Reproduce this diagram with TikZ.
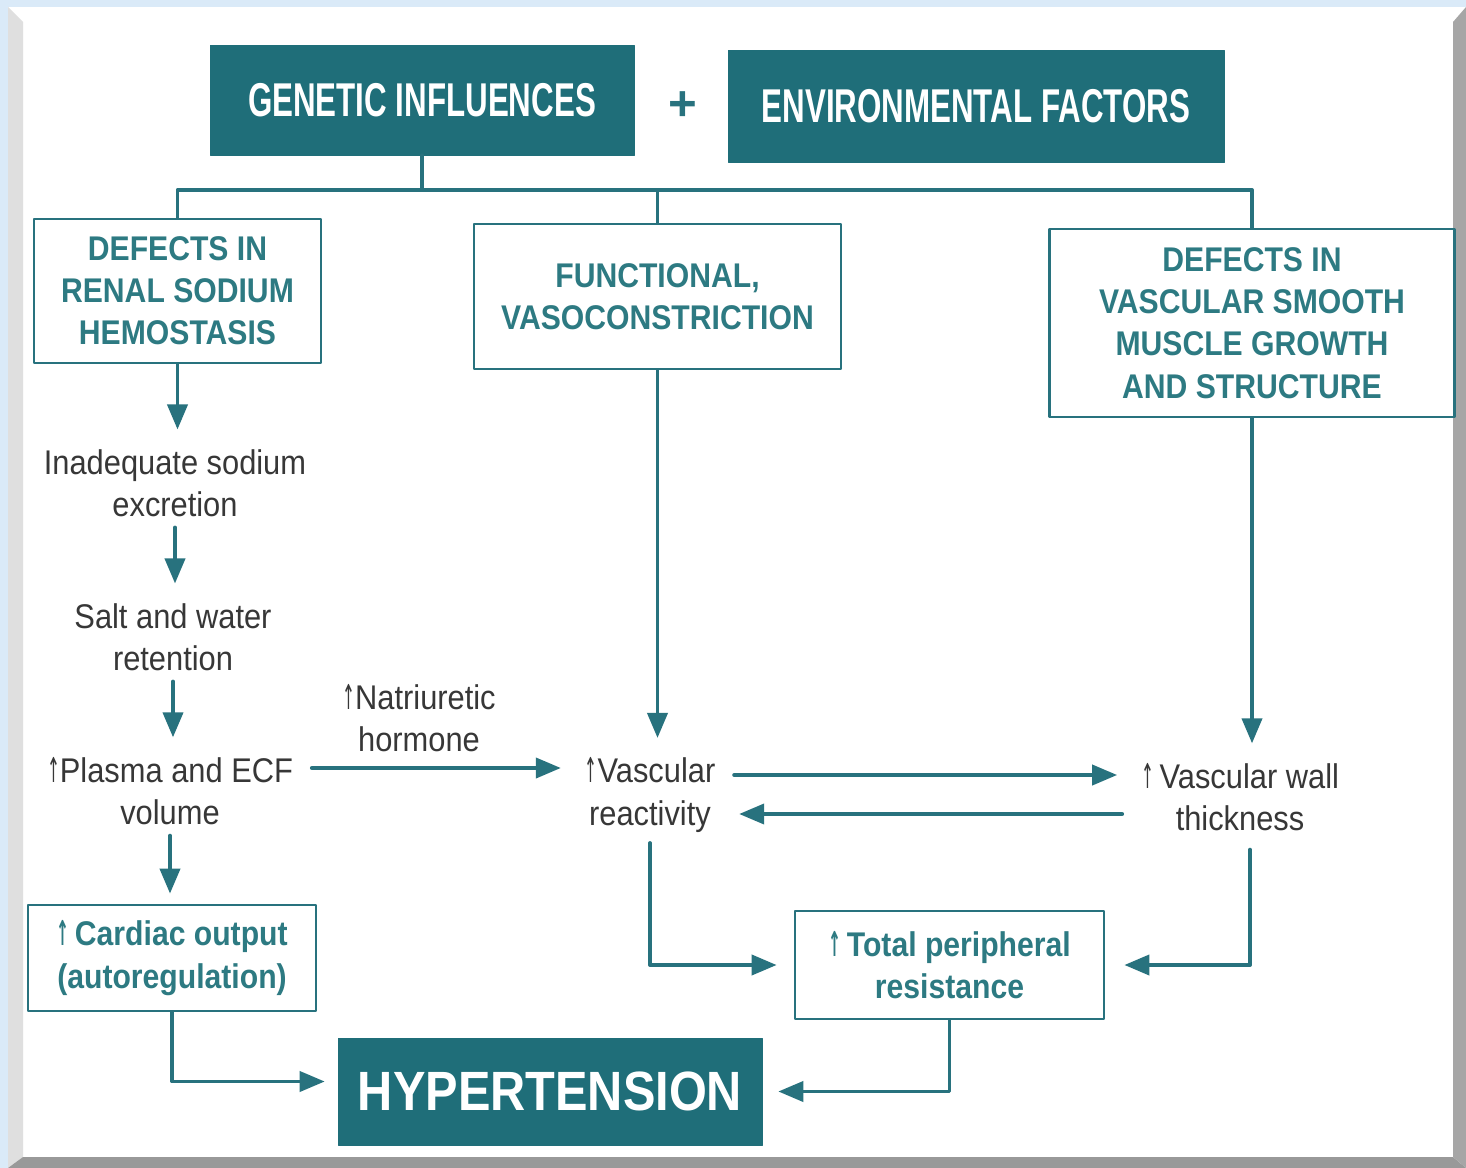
\documentclass[tikz,border=0pt]{standalone}
\usepackage{fontspec}
\setmainfont{Liberation Sans}
\newfontfamily\headfnt[FakeStretch=0.66]{Liberation Sans}
\newfontfamily\boxfnt[FakeStretch=0.88]{Liberation Sans}
\newfontfamily\txtfnt[FakeStretch=0.90]{Liberation Sans}
\newfontfamily\arrowfnt[FakeStretch=0.45]{DejaVu Sans}
\newcommand{\upar}{{\arrowfnt ↑}}
\usetikzlibrary{arrows.meta}

\definecolor{tealfill}{RGB}{31,110,121}
\definecolor{tealline}{RGB}{40,114,126}
\definecolor{tealtxt}{RGB}{45,122,130}
\definecolor{txtgray}{RGB}{55,55,55}
\definecolor{skyblue}{RGB}{218,234,248}

\begin{document}
\begin{tikzpicture}[x=0.02cm, y=-0.02cm, line cap=round, line join=round,
    filledbox/.style={fill=tealfill, draw=tealfill, text=white, inner sep=0pt},
    framebox/.style={draw=tealline, line width=1.6pt, fill=white, text=tealtxt, align=center,
      inner sep=0pt, font=\boxfnt\bfseries\fontsize{19.5}{24}\selectfont},
    plaintxt/.style={text=txtgray, align=center, inner sep=2pt, font=\txtfnt\fontsize{19.5}{24}\selectfont},
    link/.style={draw=tealline, line width=2.2pt},
    tip/.style={link, -{Triangle[length=0.5cm, width=0.4cm]}},
    intotxt/.style={tip, shorten >=0.32cm},
    fromtxt/.style={shorten <=0.14cm},
    sidetxt/.style={tip, shorten <=0.3cm, shorten >=0.4cm}]
  \useasboundingbox (0,0) rectangle (1466,1168);
  % slide frame
  \fill[skyblue] (0,0) rectangle (1466,1168);
  \fill[white] (8,7) rectangle (1466,1168);
  \fill[gray!25] (8,7) -- (23,22) -- (23,1157) -- (8,1168) -- cycle;
  \fill[gray!80] (8,1168) -- (23,1157) -- (1453,1157) -- (1466,1168) -- cycle;
  \fill[gray!70] (1453,22) -- (1466,7) -- (1466,1168) -- (1453,1157) -- cycle;

  % top row
  \node[filledbox, minimum width=8.48cm, minimum height=2.2cm,
    font=\headfnt\bfseries\fontsize{27}{30}\selectfont] (gen) at (422,100) {GENETIC INFLUENCES};
  \node[text=tealline, font=\bfseries\fontsize{28}{30}\selectfont] (plus) at (683,106) {+};
  \node[filledbox, minimum width=9.92cm, minimum height=2.24cm,
    font=\headfnt\bfseries\fontsize{27}{30}\selectfont] (env) at (976,106) {ENVIRONMENTAL FACTORS};

  % three defects
  \node[framebox, minimum width=5.74cm, minimum height=2.88cm] (renal) at (177.5,291) {DEFECTS IN\\RENAL SODIUM\\HEMOSTASIS};
  \node[framebox, minimum width=7.34cm, minimum height=2.9cm] (func) at (657.5,296.5) {FUNCTIONAL,\\VASOCONSTRICTION};
  \node[framebox, minimum width=8.1cm, minimum height=3.76cm] (vsm) at (1252,323) {DEFECTS IN\\VASCULAR SMOOTH\\MUSCLE GROWTH\\AND STRUCTURE};

  % steps
  \node[plaintxt] (inad) at (175,483) {Inadequate sodium\\excretion};
  \node[plaintxt] (salt) at (173,637) {Salt and water\\retention};
  \node[plaintxt] (plasma) at (170,791) {\upar Plasma and ECF\\volume};
  \node[plaintxt] (vreact) at (650,795) {\upar Vascular\\reactivity};
  \node[plaintxt] (vwall) at (1240,797) {\upar\,Vascular wall\\thickness};
  \node[framebox, minimum width=5.76cm, minimum height=2.12cm] (cardiac) at (172,958) {\upar\,Cardiac output\\(autoregulation)};
  \node[framebox, minimum width=6.18cm, minimum height=2.16cm] (tpr) at (949.5,965) {\upar\,Total peripheral\\resistance};
  \node[filledbox, minimum width=8.48cm, minimum height=2.14cm,
    font=\boxfnt\bfseries\fontsize{31.5}{34}\selectfont] (hyper) at (550,1091.5) {HYPERTENSION};

  % connectors
  \coordinate (bus) at (422,190);
  \draw[link] (gen.south) -- (bus);
  \draw[link] (renal.north) |- (bus) -| (vsm.north);
  \draw[link] (func.north) -- (func.north |- bus);
  \draw[intotxt] (renal.south) -- (renal.south |- inad.north);
  \draw[intotxt, fromtxt] (inad.south) -- (inad.south |- salt.north);
  \draw[intotxt, fromtxt] (salt.south) -- (salt.south |- plasma.north);
  \draw[tip, fromtxt, shorten >=0.2cm] (plasma.south) -- (plasma.south |- cardiac.north);
  \draw[intotxt] (func.south) -- (func.south |- vreact.north);
  \draw[intotxt] (vsm.south) -- (vsm.south |- vwall.north);
  \draw[sidetxt] ([yshift=0.46cm]plasma.east) -- ([yshift=0.46cm]plasma.east -| vreact.west)
    node[plaintxt, pos=0.43, above=6pt] (natri) {\upar Natriuretic\\hormone};
  \draw[sidetxt] ([yshift=0.4cm]vreact.east) -- ([yshift=0.4cm]vreact.east -| vwall.west);
  \draw[sidetxt] ([yshift=-0.34cm]vwall.west) -- ([yshift=-0.34cm]vwall.west -| vreact.east);
  \draw[tip, fromtxt, shorten >=0.34cm] (vreact.south) |- (tpr.west);
  \draw[tip, shorten <=0.3cm, shorten >=0.38cm] ([xshift=0.2cm]vwall.south) |- (tpr.east);
  \draw[tip, shorten >=0.26cm] (cardiac.south) |- ([yshift=0.2cm]hyper.west);
  \draw[tip, shorten >=0.32cm] (tpr.south) |- (hyper.east);
\end{tikzpicture}
\end{document}
